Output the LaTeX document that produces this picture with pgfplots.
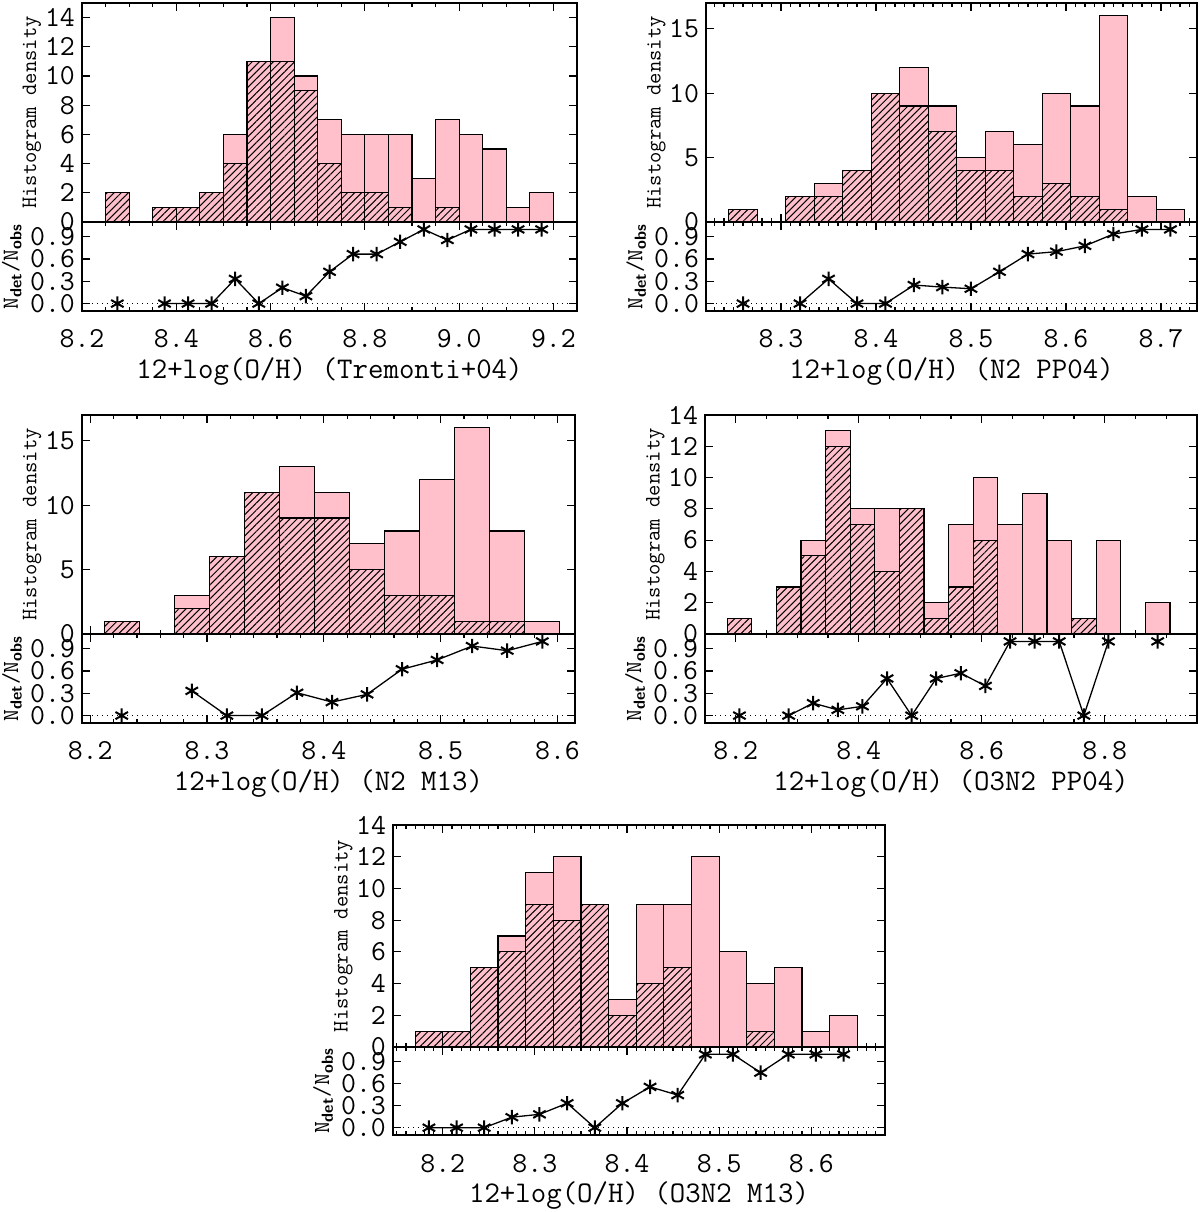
\documentclass[border=0pt]{standalone}
\usepackage{pgfplots}
\pgfplotsset{compat=1.18}
\usetikzlibrary{patterns.meta}
\definecolor{histpink}{RGB}{255,192,203}
\pgfplotsset{
  base/.style={scale only axis, anchor=south west,
    axis line style={line width=0.75pt},
    tick align=inside, xtick pos=both, ytick pos=both,
    major tick length=4pt, minor tick length=2pt,
    tick style={black, line width=0.6pt},
    ticklabel style={font=\ttfamily\fontsize{14.5}{15}\selectfont},
    /pgf/number format/assume math mode=true},
  hist/.style={base, height=109.5pt, ymin=0, xticklabels={},
    ylabel={Histogram density},
    ylabel style={font=\ttfamily\fontsize{11}{12}\selectfont, at={(axis description cs:-0.101,0.5)}, anchor=center}},
  ratio/.style={base, height=44.5pt, ymin=-0.1, ymax=1.1, ytick={0,0.3,0.6,0.9},
    yticklabel style={/pgf/number format/.cd, fixed, fixed zerofill, precision=1},
    xticklabel style={anchor=base, yshift=-18.5pt, /pgf/number format/.cd, fixed, fixed zerofill, precision=1},
    ylabel={N\textsubscript{\sffamily\bfseries det}/N\textsubscript{\sffamily\bfseries obs}},
    ylabel style={font=\ttfamily\fontsize{11.5}{12}\selectfont, at={(axis description cs:-0.142,0.5)}, anchor=center},
    xlabel style={font=\ttfamily\fontsize{15}{16}\selectfont, at={(rel axis cs:0.5,0)}, yshift=-30.5pt, anchor=center},
    unbounded coords=jump},
  tot/.style={ybar interval, fill=histpink, draw=black, line width=0.6pt},
  det/.style={ybar interval, pattern={Lines[angle=45,distance=2.5pt,line width=0.5pt]}, draw=black, line width=0.6pt},
  rat/.style={black, line width=0.65pt, mark=asterisk, mark size=3.6pt, mark options={line width=1pt}},
  zline/.style={black, dotted, line width=0.5pt}
}
\begin{document}
\begin{tikzpicture}[x=1pt,y=1pt]
\useasboundingbox (0,0) rectangle (600,606);
% ---------------- Panel 1 ----------------
\begin{axis}[hist, at={(41pt,495pt)}, width=247.5pt, xmin=8.2, xmax=9.25, ymax=15,
  xtick={8.2,8.4,8.6,8.8,9.0,9.2}, minor xtick={8.25,8.3,...,9.25}, ytick={0,2,4,6,8,10,12,14}]
\addplot[tot] coordinates {(8.25,2) (8.30,0) (8.35,1) (8.40,1) (8.45,2) (8.50,6) (8.55,11) (8.60,14) (8.65,10) (8.70,7) (8.75,6) (8.80,6) (8.85,6) (8.90,3) (8.95,7) (9.00,6) (9.05,5) (9.10,1) (9.15,2) (9.20,2)};
\addplot[det] coordinates {(8.25,2) (8.30,0) (8.35,1) (8.40,1) (8.45,2) (8.50,4) (8.55,11) (8.60,11) (8.65,9) (8.70,4) (8.75,2) (8.80,2) (8.85,1) (8.90,0) (8.95,1) (9.00,1)};
\end{axis}
\begin{axis}[ratio, at={(41pt,450.5pt)}, width=247.5pt, xmin=8.2, xmax=9.25,
  xtick={8.2,8.4,8.6,8.8,9.0,9.2}, minor xtick={8.25,8.3,...,9.25},
  xlabel={12+log(O/H) (Tremonti+04)}]
\addplot[zline] coordinates {(8.2,0) (9.25,0)};
\addplot[rat] coordinates {(8.275,0) (8.325,nan) (8.375,0) (8.425,0) (8.475,0) (8.525,0.333) (8.575,0) (8.625,0.214) (8.675,0.1) (8.725,0.429) (8.775,0.667) (8.825,0.667) (8.875,0.833) (8.925,1.0) (8.975,0.857) (9.025,1) (9.075,1) (9.125,1) (9.175,1)};
\end{axis}
% ---------------- Panel 2 ----------------
\begin{axis}[hist, at={(353pt,495pt)}, width=245.5pt, xmin=8.221, xmax=8.738, ymax=17,
  xtick={8.3,8.4,8.5,8.6,8.7}, minor xtick={8.23,8.24,...,8.73}, ytick={0,5,10,15}]
\addplot[tot] coordinates {(8.245,1) (8.275,0) (8.305,2) (8.335,3) (8.365,4) (8.395,10) (8.425,12) (8.455,9) (8.485,5) (8.515,7) (8.545,6) (8.575,10) (8.605,9) (8.635,16) (8.665,2) (8.695,1) (8.725,1)};
\addplot[det] coordinates {(8.245,1) (8.275,0) (8.305,2) (8.335,2) (8.365,4) (8.395,10) (8.425,9) (8.455,7) (8.485,4) (8.515,4) (8.545,2) (8.575,3) (8.605,2) (8.635,1) (8.665,1)};
\end{axis}
\begin{axis}[ratio, at={(353pt,450.5pt)}, width=245.5pt, xmin=8.221, xmax=8.738,
  xtick={8.3,8.4,8.5,8.6,8.7}, minor xtick={8.23,8.24,...,8.73},
  xlabel={12+log(O/H) (N2 PP04)}]
\addplot[zline] coordinates {(8.221,0) (8.738,0)};
\addplot[rat] coordinates {(8.26,0) (8.29,nan) (8.32,0) (8.35,0.333) (8.38,0) (8.41,0) (8.44,0.25) (8.47,0.222) (8.50,0.2) (8.53,0.429) (8.56,0.667) (8.59,0.7) (8.62,0.778) (8.65,0.9375) (8.68,1) (8.71,1)};
\end{axis}
% ---------------- Panel 3 ----------------
\begin{axis}[hist, at={(41pt,289pt)}, width=246.5pt, xmin=8.193, xmax=8.615, ymax=17,
  xtick={8.2,8.3,8.4,8.5,8.6}, minor xtick={8.2,8.22,...,8.62}, ytick={0,5,10,15}]
\addplot[tot] coordinates {(8.212,1) (8.242,0) (8.272,3) (8.302,6) (8.332,11) (8.362,13) (8.392,11) (8.422,7) (8.452,8) (8.482,12) (8.512,16) (8.542,8) (8.572,1) (8.602,1)};
\addplot[det] coordinates {(8.212,1) (8.242,0) (8.272,2) (8.302,6) (8.332,11) (8.362,9) (8.392,9) (8.422,5) (8.452,3) (8.482,3) (8.512,1) (8.542,1) (8.572,1)};
\end{axis}
\begin{axis}[ratio, at={(41pt,244.5pt)}, width=246.5pt, xmin=8.193, xmax=8.615,
  xtick={8.2,8.3,8.4,8.5,8.6}, minor xtick={8.2,8.22,...,8.62},
  xlabel={12+log(O/H) (N2 M13)}]
\addplot[zline] coordinates {(8.193,0) (8.615,0)};
\addplot[rat] coordinates {(8.227,0) (8.257,nan) (8.287,0.333) (8.317,0) (8.347,0) (8.377,0.308) (8.407,0.182) (8.437,0.286) (8.467,0.625) (8.497,0.75) (8.527,0.9375) (8.557,0.875) (8.587,1)};
\end{axis}
% ---------------- Panel 4 ----------------
\begin{axis}[hist, at={(352.5pt,289pt)}, width=246pt, xmin=8.15, xmax=8.95, ymax=14,
  xtick={8.2,8.4,8.6,8.8}, minor xtick={8.15,8.2,...,8.95}, ytick={0,2,4,6,8,10,12,14}]
\addplot[tot] coordinates {(8.186,1) (8.226,0) (8.266,3) (8.306,6) (8.346,13) (8.386,8) (8.426,8) (8.466,8) (8.506,2) (8.546,7) (8.586,10) (8.626,7) (8.666,9) (8.706,6) (8.746,1) (8.786,6) (8.826,0) (8.866,2) (8.906,2)};
\addplot[det] coordinates {(8.186,1) (8.226,0) (8.266,3) (8.306,5) (8.346,12) (8.386,7) (8.426,4) (8.466,8) (8.506,1) (8.546,3) (8.586,6) (8.626,0) (8.666,0) (8.706,0) (8.746,1) (8.786,1)};
\end{axis}
\begin{axis}[ratio, at={(352.5pt,244.5pt)}, width=246pt, xmin=8.15, xmax=8.95,
  xtick={8.2,8.4,8.6,8.8}, minor xtick={8.15,8.2,...,8.95},
  xlabel={12+log(O/H) (O3N2 PP04)}]
\addplot[zline] coordinates {(8.15,0) (8.95,0)};
\addplot[rat] coordinates {(8.206,0) (8.246,nan) (8.286,0) (8.326,0.167) (8.366,0.077) (8.406,0.125) (8.446,0.5) (8.486,0) (8.526,0.5) (8.566,0.571) (8.606,0.4) (8.646,1) (8.686,1) (8.726,1) (8.766,0) (8.806,1) (8.846,nan) (8.886,1)};
\end{axis}
% ---------------- Panel 5 ----------------
\begin{axis}[hist, at={(196.5pt,82.5pt)}, width=246pt, height=111pt, xmin=8.146, xmax=8.68, ymax=14,
  xtick={8.2,8.3,8.4,8.5,8.6}, minor xtick={8.15,8.16,...,8.68}, ytick={0,2,4,6,8,10,12,14}]
\addplot[tot] coordinates {(8.17,1) (8.20,1) (8.23,5) (8.26,7) (8.29,11) (8.32,12) (8.35,9) (8.38,3) (8.41,9) (8.44,9) (8.47,12) (8.50,6) (8.53,4) (8.56,5) (8.59,1) (8.62,2) (8.65,2)};
\addplot[det] coordinates {(8.17,1) (8.20,1) (8.23,5) (8.26,6) (8.29,9) (8.32,8) (8.35,9) (8.38,2) (8.41,4) (8.44,5) (8.47,0) (8.50,0) (8.53,1) (8.56,1)};
\end{axis}
\begin{axis}[ratio, at={(196.5pt,38.5pt)}, width=246pt, height=44pt, xmin=8.146, xmax=8.68,
  xtick={8.2,8.3,8.4,8.5,8.6}, minor xtick={8.15,8.16,...,8.68},
  xlabel={12+log(O/H) (O3N2 M13)}]
\addplot[zline] coordinates {(8.146,0) (8.68,0)};
\addplot[rat] coordinates {(8.185,0) (8.215,0) (8.245,0) (8.275,0.143) (8.305,0.182) (8.335,0.333) (8.365,0) (8.395,0.333) (8.425,0.556) (8.455,0.444) (8.485,1) (8.515,1) (8.545,0.75) (8.575,1) (8.605,1) (8.635,1)};
\end{axis}
\end{tikzpicture}
\end{document}
